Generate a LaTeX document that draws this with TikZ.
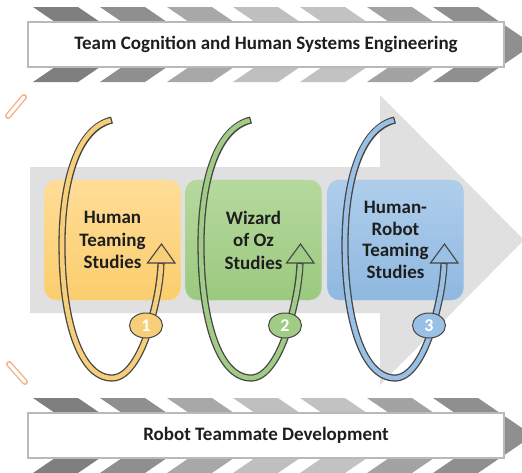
\documentclass[tikz,border=0pt]{standalone}
\usepackage{fontspec}
\setmainfont{Carlito}
\usetikzlibrary{shapes.geometric}
\definecolor{tubeln}{HTML}{454545}
\definecolor{orT}{HTML}{FFDD98}
\definecolor{orB}{HTML}{FBCD6C}
\definecolor{orL}{HTML}{F7CF7A}
\definecolor{grT}{HTML}{B6D99E}
\definecolor{grB}{HTML}{9BC97F}
\definecolor{grL}{HTML}{A0CC86}
\definecolor{blT}{HTML}{AFCEEC}
\definecolor{blB}{HTML}{8FB8E0}
\definecolor{blL}{HTML}{9AC1E5}
\definecolor{bigarrow}{HTML}{E0E0E0}
\definecolor{salmon}{HTML}{F4B183}
\definecolor{txt}{HTML}{1E1E1E}
\tikzset{
  banner/.style={draw=gray!55, line width=1.3pt, fill=white, minimum width=476pt, minimum height=45pt, inner sep=0pt,
    font=\fontsize{19}{22}\selectfont\bfseries, text=txt},
  studybox/.style={rounded corners=12pt, minimum width=136pt, minimum height=120pt, inner sep=0pt,
    align=center, font=\fontsize{19}{22.5}\selectfont\bfseries, text=txt},
  tubeout/.style={line width=7.2pt, draw=tubeln},
  numnode/.style={ellipse, draw=tubeln, line width=1pt, minimum width=33pt, minimum height=25pt, inner sep=0pt,
    text=white, font=\fontsize{18}{18}\selectfont\bfseries}
}
\newcommand{\chevrons}[1]{%
  \foreach \xx/\cc in {33/7F7F7F, 100/8F8F8F, 167/A8A8A8, 233/BFBFBF, 300/C2C2C2, 367/A3A3A3, 433/8F8F8F}{
    \definecolor{chv}{HTML}{\cc}
    \fill[chv] (\xx,#1-37.5) -- (\xx+45,#1-37.5) -- (\xx+100,#1) -- (\xx+45,#1+37.5) -- (\xx,#1+37.5) -- (\xx+55,#1) -- cycle;
  }}
\newcommand{\teamloop}[4]{% shift, colour, number, name
  \begin{scope}[xshift=#1]
    \draw[tubeout] (112,120) .. controls (78,128) and (62,180) .. (62,245)
      .. controls (62,320) and (80,378) .. (112,378)
      .. controls (128,378) and (140,355) .. (147,335)
      .. controls (153,315) and (160,290) .. (161,263);
    \draw[draw=tubeln, line width=1.1pt, fill=#2, line join=miter] (147.5,263) -- (175,263) -- (161.5,244) -- cycle;
    \draw[line width=4.6pt, draw=#2, shorten <=1.3pt] (112,120) .. controls (78,128) and (62,180) .. (62,245)
      .. controls (62,320) and (80,378) .. (112,378)
      .. controls (128,378) and (140,355) .. (147,335)
      .. controls (153,315) and (160,290) .. (161,264.2);
    \node[numnode, fill=#2] (#4) at (146,325.5) {#3};
  \end{scope}}
\begin{document}
\begin{tikzpicture}[x=1pt, y=-1pt]
  \path[use as bounding box] (0,0) rectangle (522,472);
  \clip (0,0) rectangle (522,472);
  % top banner
  \chevrons{44.5}
  \node[banner] (topbanner) at (266,44.5) {Team Cognition and Human Systems Engineering};
  % bottom banner
  \chevrons{435.5}
  \node[banner] (botbanner) at (266,435.5) {Robot Teammate Development};
  % big arrow
  \fill[bigarrow] (30,167) -- (380,167) -- (380,95) -- (524,240) -- (380,385) -- (380,313) -- (30,313) -- cycle;
  % salmon fragments
  \foreach \a/\b in {{(8,116)}/{(24,97)}, {(9,364)}/{(25,382)}}{
    \draw[salmon, line width=6pt, line cap=round] \a -- \b;
    \draw[white, line width=3.2pt, line cap=round] \a -- \b;
  }
  % study boxes
  \node[studybox, draw=orB!80!white, top color=orT, bottom color=orB] (human) at (112.5,240) {Human\\Teaming\\Studies};
  \node[studybox, draw=grB!80!white, top color=grT, bottom color=grB] (wizard) at (253.5,240) {Wizard\\of Oz\\Studies};
  \node[studybox, draw=blB!80!white, top color=blT, bottom color=blB, font=\fontsize{19}{21.5}\selectfont\bfseries] (hrt) at (395.5,240) {Human-\\Robot\\Teaming\\Studies};
  % loops
  \teamloop{0pt}{orL}{1}{one}
  \teamloop{139pt}{grL}{2}{two}
  \teamloop{283pt}{blL}{3}{three}
\end{tikzpicture}
\end{document}
